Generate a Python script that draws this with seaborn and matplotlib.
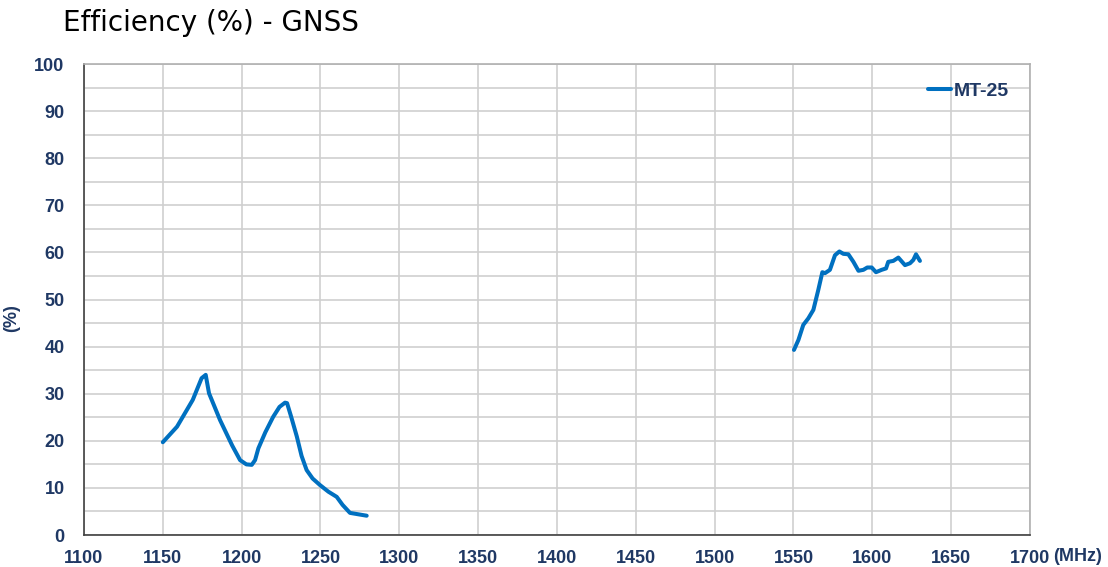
import numpy as np
import pandas as pd
import matplotlib
matplotlib.use("Agg")
import matplotlib.pyplot as plt
import seaborn as sns

# band 1 (L5 / L2 area)
freq_low = [1150, 1159, 1169, 1174.6, 1177.2, 1179.3, 1186.3, 1194, 1199, 1203, 1206.4, 1208.5,
            1210.6, 1215, 1220, 1224, 1227.5, 1228.8, 1231.5, 1235, 1238, 1241.2, 1245, 1249.7,
            1255, 1260.3, 1264, 1268.7, 1274, 1279.3]
eff_low = [19.7, 23.0, 28.7, 33.3, 34.0, 30.1, 24.4, 19.0, 15.9, 15.0, 14.9, 15.9,
           18.4, 21.8, 25.1, 27.2, 28.1, 28.0, 25.0, 20.9, 16.8, 13.8, 12.0, 10.6,
           9.2, 8.1, 6.4, 4.7, 4.4, 4.1]

# band 2 (L1 area)
freq_high = [1550.3, 1553.1, 1556.2, 1559.4, 1562.6, 1565.7, 1568.3, 1570.0, 1573.1, 1576.3,
             1579.1, 1581.6, 1584.8, 1588.0, 1591.2, 1594.3, 1596.8, 1599.6, 1602.3, 1605.9,
             1608.7, 1610.1, 1613.3, 1616.5, 1620.7, 1623.9, 1626.0, 1627.7, 1630.2]
eff_high = [39.3, 41.4, 44.6, 46.0, 47.8, 52.0, 55.8, 55.6, 56.3, 59.4,
            60.2, 59.7, 59.6, 58.0, 56.1, 56.3, 56.8, 56.8, 55.8, 56.3,
            56.6, 58.0, 58.2, 58.9, 57.3, 57.7, 58.4, 59.6, 58.2]

series_name = "MT-25"
x_ticks = list(range(1100, 1701, 50))
y_ticks = list(range(0, 101, 10))

df = pd.concat([
    pd.DataFrame({"freq": freq_low, "eff": eff_low, "band": "low"}),
    pd.DataFrame({"freq": freq_high, "eff": eff_high, "band": "high"}),
])
df["model"] = series_name

navy = "#1F3864"
blue = "#0070C0"

sns.set_style("white")
plt.rcParams["font.family"] = ["Liberation Sans", "DejaVu Sans"]

fig = plt.figure(figsize=(11.08, 5.67), dpi=100)
ax = fig.add_axes([0.0758, 0.0564, 0.8538, 0.8307])

sns.lineplot(data=df, x="freq", y="eff", hue="model", units="band", estimator=None,
             sort=False, palette=[blue], linewidth=2.9, ax=ax)

ax.set_xlim(1100, 1700)
ax.set_ylim(0, 100)
ax.set_xticks(x_ticks)
ax.set_yticks(y_ticks)
ax.set_yticks(np.arange(0, 101, 5), minor=True)
ax.grid(True, which="both", axis="y", color="#CFCFCF", linewidth=1.2)
ax.grid(True, which="major", axis="x", color="#CFCFCF", linewidth=1.2)
ax.set_axisbelow(True)

ax.tick_params(axis="both", which="major", direction="in", length=5, width=1,
               color="black", labelcolor=navy, labelsize=13)
ax.tick_params(axis="y", which="minor", length=0)
ax.tick_params(axis="y", pad=14)
ax.tick_params(axis="x", pad=11)
for lab in ax.get_xticklabels() + ax.get_yticklabels():
    lab.set_fontweight("bold")

for s in ["left", "bottom"]:
    ax.spines[s].set_color("#404040")
    ax.spines[s].set_linewidth(1.2)
for s in ["top", "right"]:
    ax.spines[s].set_color("#B0B0B0")
    ax.spines[s].set_linewidth(1.2)

ax.set_xlabel("")
ax.set_ylabel("(%)", color=navy, fontweight="bold", fontsize=13)
ax.yaxis.set_label_coords(-0.068, 0.46)
ax.text(1.0243, -0.046, "(MHz)", transform=ax.transAxes, color=navy,
        fontweight="bold", fontsize=13, ha="left", va="center")

leg = ax.legend(loc="upper right", bbox_to_anchor=(0.986, 0.978), borderaxespad=0,
                frameon=False, handlelength=1.2, handletextpad=0.15,
                prop={"weight": "bold", "size": 14})
for t in leg.get_texts():
    t.set_color(navy)

fig.text(0.057, 0.96, "Efficiency (%) - GNSS", fontsize=20, family="DejaVu Sans",
         color="black", ha="left", va="center")

fig.savefig("out.png", dpi=100)
